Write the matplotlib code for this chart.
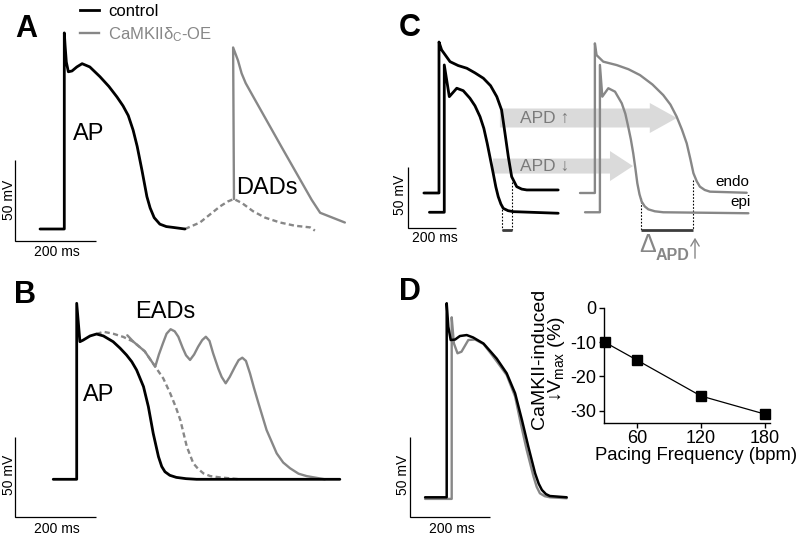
import matplotlib
matplotlib.use('Agg')
import matplotlib.pyplot as plt
from matplotlib.patches import FancyArrow, FancyArrowPatch
from matplotlib.lines import Line2D

plt.rcParams['font.family'] = ['Liberation Sans', 'DejaVu Sans']
plt.rcParams['mathtext.default'] = 'regular'

W, H = 803, 538
fig = plt.figure(figsize=(W / 100, H / 100), dpi=100)

BLACK = '#000000'
GRAY = '#878787'
DARK = '#3c3c3c'
LIGHT = '#dadada'

# ---------------- data (time in ms, voltage in mV) ----------------
# Panel A: control AP, sub-threshold DAD (dashed), triggered DAD-AP (gray)
a_ctrl_t = [-60, 0, 0, 2, 5, 10, 19, 31, 44, 63, 88, 110, 130, 145, 158, 170, 180, 192, 204, 212, 222, 236, 252, 268, 298]
a_ctrl_v = [-85, -85, 36, 28, 18, 12, 12.5, 15, 17, 15, 9, 3, -3.5, -9, -15, -24, -34, -49, -65, -72, -78, -82, -83.5, -84, -85]
a_dad_t = [298, 335, 360, 385, 404, 419, 439, 466, 496, 533, 570, 607, 619]
a_dad_v = [-85, -81, -76, -71, -68, -66.5, -69, -74, -78, -81, -83, -84, -86]
a_trig_t = [419, 419, 417, 429, 438, 448, 467, 538, 611, 632, 693]
a_trig_v = [-66.5, -62, 27, 19, 11, 5, -3.5, -35, -67, -75, -81]

# Panel B: control AP, prolonged AP (dashed), AP with EADs (gray)
b_ctrl_t = [-58, 0, 0, 8, 16, 33, 49, 66, 90, 107, 123, 136, 148, 165, 177, 189, 202, 210, 218, 230, 246, 270, 296, 650]
b_ctrl_v = [-85, -85, 25, 1, 2, 4.6, 5.8, 4.6, 1, -3, -7.3, -11.5, -16.7, -27.1, -39.6, -56.3, -70.9, -77, -80.3, -82.5, -83.8, -84.6, -85, -85]
b_long_t = [49, 66, 90, 115, 140, 168, 194, 214, 231, 245, 256, 272, 288, 300, 313, 330, 354, 404]
b_long_v = [5.8, 7.2, 6, 4, 1, -5, -14.6, -22, -31.3, -40, -48, -64.6, -75, -78.5, -81.3, -83, -83.8, -85]
b_ead_t = [125, 140, 168, 194, 203, 213, 222, 232, 242, 251, 262, 270, 280, 290, 300, 310, 319, 328, 337, 350,
           358, 368, 378, 391, 400, 409, 418, 428, 438, 449, 469, 494, 510, 527, 548, 568, 613]
b_ead_v = [5, 1, -5, -14.6, -7, 0, 6, 8.8, 7.5, 4.1, -3, -7.5, -10.4, -7, -2.1, 2, 4.1, 1.5, -6.3, -16,
           -21, -25, -21, -14.6, -10.5, -9, -11, -18.8, -28, -37.5, -54.2, -68.8, -74.5, -78.1, -81.5, -83, -85]

# Panel C: endo / epi APs, control (black) and CaMKII (gray)
c_ctrl_endo_t = [-63, 0, 0, 11, 46, 80, 116, 150, 185, 215, 241, 261, 275, 289, 303, 324, 345, 366, 497]
c_ctrl_endo_v = [-85, -85, 38.8, 32.3, 22.7, 19.5, 17.3, 13.5, 9.1, 3, -6, -16.9, -35.8, -55.2, -71.6, -79.8, -81.8, -82.5, -82.5]
c_ctrl_epi_t = [-40, 22, 22, 43, 74, 101, 129, 150, 171, 187, 201, 214, 226, 237, 247, 258, 268, 288, 310, 497]
c_ctrl_epi_v = [-100.8, -100.8, 20, -6, 0.9, -1.1, -7.3, -13.5, -22.4, -32, -44.3, -57, -68.8, -80, -88, -94, -97.6, -99.5, -100.3, -101.6]
c_camk_endo_t = [588, 650, 650, 657, 685, 741, 790, 838, 890, 935, 965, 991, 1013, 1033, 1048, 1061, 1075, 1088, 1108, 1130, 1283]
c_camk_endo_v = [-85, -85, 37.7, 28.1, 22.7, 19.9, 16.5, 11.7, 4, -4.7, -12.5, -22.4, -33, -44.3, -57, -68.8, -75.5, -79.8, -82.5, -83.9, -84.8]
c_camk_epi_t = [609, 671, 671, 681, 706, 734, 762, 777, 789, 800, 810, 819, 827, 836, 845, 858, 873, 900, 935, 1290]
c_camk_epi_v = [-100.8, -100.8, 20, -6, 0.9, -1.9, -11.4, -20, -30.6, -41, -52.5, -65, -77, -86, -92, -96, -98.4, -100, -100.8, -101.6]
c_apd_ctrl_t = [261, 306]
c_apd_ctrl_top = [-96, -75.7]
c_apd_camk_t = [841, 1058]
c_apd_camk_top = [-89, -74.3]

# Panel D: control (black) vs CaMKII (gray) AP
d_ctrl_t = [-54, 0, 0, 4, 10, 21, 33, 50, 66, 92, 110, 125, 150, 171, 188, 204, 221, 230, 238, 248, 258, 300]
d_ctrl_v = [-85, -85, 36.3, 21.6, 13.3, 13.6, 15.8, 16.4, 14.9, 11.1, 6, 1.7, -7.5, -20, -36.6, -53.3, -70, -76.5, -80.4, -83, -84.2, -85]
d_camk_t = [-54, 12.5, 12.5, 18, 27, 37, 54, 71, 92, 110, 125, 150, 171, 185, 200, 217, 225, 233, 245, 258, 300]
d_camk_v = [-86, -86, 27.5, 11.2, 5, 6, 13.3, 13.6, 10.8, 5, 0, -8.6, -22, -38.7, -55.4, -72, -78.5, -82.5, -84.3, -85, -85.6]

# Panel D inset
freq_bpm = [30, 60, 120, 180]
vmax_change = [-10, -15.2, -25.7, -31]
freq_ticks = [60, 120, 180]
vmax_ticks = [0, -10, -20, -30]


# ---------------- helpers ----------------
def ftext(x, y, s, **kw):
    kw.setdefault('ha', 'center')
    kw.setdefault('va', 'center')
    return fig.text(x / W, 1 - y / H, s, **kw)


def panel(left, top, width, height, x0, y0, ms_px, mv_px):
    ax = fig.add_axes([left / W, 1 - (top + height) / H, width / W, height / H])
    ax.set_xlim((left - x0) * ms_px, (left + width - x0) * ms_px)
    ax.set_ylim(-85 - (top + height - y0) * mv_px, -85 + (y0 - top) * mv_px)
    ax.axis('off')
    ax.patch.set_alpha(0)
    return ax


def scalebar(ax, t0, v0):
    ax.plot([t0, t0, t0 + 200], [v0 + 50, v0, v0], color=BLACK, lw=0.9,
            solid_capstyle='butt', solid_joinstyle='miter', clip_on=False)


LW_B = 2.0
LW_G = 1.7
DASH = (0, (2.2, 1.4))
KW = dict(solid_joinstyle='round', solid_capstyle='round')

# ---------------- Panel A ----------------
axA = panel(0, 0, 400, 260, 64.3, 229, 2.47, 0.617)
axA.plot(a_dad_t, a_dad_v, color=GRAY, lw=LW_G, ls=DASH)
axA.plot(a_trig_t, a_trig_v, color=GRAY, lw=LW_G, **KW)
axA.plot(a_ctrl_t, a_ctrl_v, color=BLACK, lw=LW_B, **KW)
scalebar(axA, -121.8, -92.2)
ftext(26, 29, 'A', fontsize=22, fontweight='bold')
ftext(89, 134, 'AP', fontsize=17)
ftext(267, 188, 'DADs', fontsize=17)
ftext(9, 200, '50 mV', fontsize=10, rotation=90)
ftext(57, 252, '200 ms', fontsize=10)
handles = [Line2D([], [], color=BLACK, lw=LW_B), Line2D([], [], color=GRAY, lw=LW_G)]
fig.legend(handles, ['control', 'CaMKIIδ$_{C}$-OE'], loc='upper left',
           bbox_to_anchor=(78 / W, 1 - 2 / H), frameon=False, fontsize=12,
           handlelength=1.15, handletextpad=0.55, labelspacing=0.38,
           labelcolor=[BLACK, GRAY], borderaxespad=0, borderpad=0.1)

# ---------------- Panel B ----------------
axB = panel(0, 260, 400, 278, 76.7, 479.3, 2.47, 0.625)
axB.plot(b_ead_t, b_ead_v, color=GRAY, lw=LW_G, **KW)
axB.plot(b_long_t, b_long_v, color=GRAY, lw=LW_G, ls=DASH)
axB.plot(b_ctrl_t, b_ctrl_v, color=BLACK, lw=LW_B, **KW)
scalebar(axB, -152.4, -108.6)
ftext(25, 295, 'B', fontsize=22, fontweight='bold')
ftext(165, 312, 'EADs', fontsize=17)
ftext(99, 395, 'AP', fontsize=17)
ftext(9, 475, '50 mV', fontsize=10, rotation=90)
ftext(57, 529, '200 ms', fontsize=10)

# ---------------- Panel C ----------------
axC = panel(400, 0, 403, 260, 439, 193, 4.17, 0.82)
axC.add_patch(FancyArrow(254, -23.5, 992 - 254, 0, width=15.6, head_width=24.6,
                         head_length=113, length_includes_head=True,
                         color=LIGHT, lw=0, zorder=0))
axC.add_patch(FancyArrow(225, -62.9, 809 - 225, 0, width=12.3, head_width=24.6,
                         head_length=96, length_includes_head=True,
                         color=LIGHT, lw=0, zorder=0))
for t, top in zip(c_apd_ctrl_t, c_apd_ctrl_top):
    axC.plot([t, t], [top, -115], color=BLACK, lw=0.8, ls=(0, (1.5, 1.5)))
for t, top in zip(c_apd_camk_t, c_apd_camk_top):
    axC.plot([t, t], [top, -115], color=BLACK, lw=0.8, ls=(0, (1.5, 1.5)))
axC.plot(c_apd_ctrl_t, [-115, -115], color=DARK, lw=2.0, solid_capstyle='butt')
axC.plot(c_apd_camk_t, [-115, -115], color=DARK, lw=2.0, solid_capstyle='butt')
axC.plot(c_ctrl_endo_t, c_ctrl_endo_v, color=BLACK, lw=LW_B, **KW)
axC.plot(c_ctrl_epi_t, c_ctrl_epi_v, color=BLACK, lw=LW_B, **KW)
axC.plot(c_camk_endo_t, c_camk_endo_v, color=GRAY, lw=LW_G, **KW)
axC.plot(c_camk_epi_t, c_camk_epi_v, color=GRAY, lw=LW_G, **KW)
scalebar(axC, -129, -113.7)
ftext(410, 28, 'C', fontsize=22, fontweight='bold')
ftext(545, 118, 'APD ↑', fontsize=12.5, color='#7a7a7a')
ftext(545, 166, 'APD ↓', fontsize=12.5, color='#7a7a7a')
ftext(732, 182, 'endo', fontsize=11)
ftext(741, 202, 'epi', fontsize=11)
ftext(648, 245, 'Δ', fontsize=18, color=GRAY)
ftext(673, 255, 'APD', fontsize=11.5, fontweight='bold', color=GRAY)
fig.add_artist(FancyArrowPatch(
    (695 / W, 1 - 261 / H), (695 / W, 1 - 235 / H), transform=fig.transFigure,
    arrowstyle='->,head_length=5,head_width=3', color=GRAY, lw=1.0))
ftext(400, 195, '50 mV', fontsize=10, rotation=90)
ftext(435, 238, '200 ms', fontsize=10)

# ---------------- Panel D ----------------
axD = panel(395, 270, 205, 268, 446.7, 497.3, 2.5, 0.625)
axD.plot(d_camk_t, d_camk_v, color=GRAY, lw=LW_G, **KW)
axD.plot(d_ctrl_t, d_ctrl_v, color=BLACK, lw=LW_B - 0.2, **KW)
scalebar(axD, -91.75, -97.3)
ftext(410, 292, 'D', fontsize=22, fontweight='bold')
ftext(403, 475, '50 mV', fontsize=10, rotation=90)
ftext(452, 529, '200 ms', fontsize=10)

# inset
axI = fig.add_axes([604 / W, 1 - 422.7 / H, 166 / W, 114.7 / H])
axI.plot(freq_bpm, vmax_change, color=BLACK, lw=0.9, marker='s', ms=7.5,
         mfc=BLACK, mec=BLACK, clip_on=False)
axI.set_xlim(29.2, 184.7)
axI.set_ylim(-33.5, 0)
axI.set_xticks(freq_ticks)
axI.set_yticks(vmax_ticks)
axI.set_yticklabels([str(v) for v in vmax_ticks])
for s in ['top', 'right']:
    axI.spines[s].set_visible(False)
for s in ['left', 'bottom']:
    axI.spines[s].set_linewidth(1.0)
axI.tick_params(direction='out', length=3.5, width=1.0, labelsize=13, pad=2)
axI.patch.set_alpha(0)
ftext(696, 456, 'Pacing Frequency (bpm)', fontsize=13.3)
ftext(549, 359, 'CaMKII-induced\n↓V$_{max}$ (%)', fontsize=14, rotation=90,
      linespacing=0.85, multialignment='center')

fig.savefig('out.png', dpi=100)
